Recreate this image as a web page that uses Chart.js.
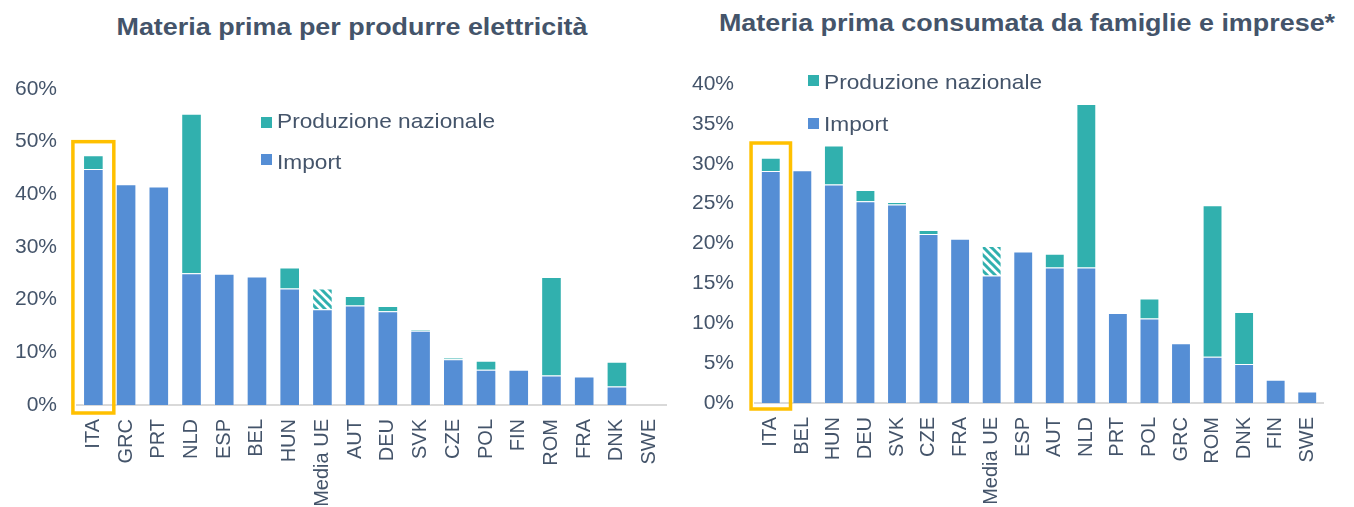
<!DOCTYPE html>
<html>
<head>
<meta charset="utf-8">
<script src="https://cdn.jsdelivr.net/npm/chart.js@4"></script>
<style>
    body { margin: 0; background: #fff; width: 1354px; height: 507px; position: relative; overflow: hidden;
           font-family: "Liberation Sans", Arial, sans-serif; color: #44546A; }
    .title { position: absolute; font-weight: bold; font-size: 23px; line-height: 1; white-space: nowrap;
             transform: translateX(-50%) scaleX(1.17); }
    .leg { position: absolute; font-size: 21px; line-height: 1; white-space: nowrap; transform-origin: left center;
           transform: scaleX(1.08); }
    .sq { position: absolute; width: 11px; height: 11px; }
    .box { position: absolute; top: 0; height: 507px; }
</style>
</head>
<body>
<div class="title" style="left:352px; top:16px;">Materia prima per produrre elettricità</div>
<div class="title" style="left:1027px; top:12px;">Materia prima consumata da famiglie e imprese*</div>

<div class="box" style="left:0; width:680px;"><canvas id="elettricita"></canvas></div>
<div class="box" style="left:680px; width:674px;"><canvas id="famiglie"></canvas></div>

<div class="sq" style="left:261px; top:117px; background:#31B0AE;"></div>
<div class="leg" style="left:277px; top:110px;">Produzione nazionale</div>
<div class="sq" style="left:261px; top:154px; background:#558ED5;"></div>
<div class="leg" style="left:277px; top:151px;">Import</div>

<div class="sq" style="left:808px; top:75px; background:#31B0AE;"></div>
<div class="leg" style="left:824px; top:71px;">Produzione nazionale</div>
<div class="sq" style="left:808px; top:118px; background:#558ED5;"></div>
<div class="leg" style="left:824px; top:113px;">Import</div>

<script>
// dati (valori in %)
var labelsEle = ["ITA", "GRC", "PRT", "NLD", "ESP", "BEL", "HUN", "Media UE", "AUT", "DEU", "SVK", "CZE", "POL", "FIN", "ROM", "FRA", "DNK", "SWE"];
var importEle = [44.8, 41.9, 41.5, 25.0, 24.9, 24.4, 22.1, 18.2, 18.9, 17.8, 14.1, 8.7, 6.7, 6.7, 5.6, 5.4, 3.5, 0];
var prodEle = [2.6, 0, 0, 30.3, 0, 0, 4.0, 3.9, 1.8, 1.0, 0.2, 0.3, 1.7, 0, 18.7, 0, 4.7, 0];

var labelsFam = ["ITA", "BEL", "HUN", "DEU", "SVK", "CZE", "FRA", "Media UE", "ESP", "AUT", "NLD", "PRT", "POL", "GRC", "ROM", "DNK", "FIN", "SWE"];
var importFam = [29.1, 29.2, 27.4, 25.3, 24.9, 21.2, 20.6, 16.0, 19.0, 17.0, 17.0, 11.3, 10.6, 7.5, 5.8, 4.9, 2.9, 1.45];
var prodFam = [1.65, 0, 4.9, 1.4, 0.3, 0.5, 0, 3.7, 0, 1.7, 20.5, 0, 2.5, 0, 19.0, 6.5, 0, 0];

var blue = "#558ED5";
var teal = "#31B0AE";
var textColor = "#44546A";

Chart.defaults.font.family = "'Liberation Sans', Arial, sans-serif";
Chart.defaults.color = textColor;

function makeHatch() {
    var c = document.createElement("canvas");
    c.width = 8;
    c.height = 8;
    var g = c.getContext("2d");
    g.fillStyle = "#ffffff";
    g.fillRect(0, 0, 8, 8);
    g.strokeStyle = teal;
    g.lineWidth = 3;
    g.beginPath();
    g.moveTo(-2, -2); g.lineTo(10, 10);
    g.moveTo(-2, 6); g.lineTo(2, 10);
    g.moveTo(6, -2); g.lineTo(10, 2);
    g.stroke();
    return g.createPattern(c, "repeat");
}
var hatch = makeHatch();

// riquadro giallo attorno a ITA
var highlightBox = {
    id: "highlightBox",
    afterDatasetsDraw: function (chart, args, opts) {
        var x = chart.scales.x;
        var y = chart.scales.y;
        var band = x.getPixelForValue(1) - x.getPixelForValue(0);
        var cx = x.getPixelForValue(0);
        var half = band * 0.625;
        var top = y.getPixelForValue(opts.top);
        var bottom = y.getPixelForValue(0) + opts.below;
        var ctx = chart.ctx;
        ctx.save();
        ctx.strokeStyle = "#FFC000";
        ctx.lineWidth = 3.5;
        ctx.strokeRect(cx - half, top, half * 2, bottom - top);
        ctx.restore();
    },
};

function makeChart(id, labels, imp, prod, opt) {
    return new Chart(document.getElementById(id), {
        type: "bar",
        data: {
            labels: labels,
            datasets: [
                {
                    label: "Import",
                    data: imp,
                    backgroundColor: blue,
                    borderColor: "rgba(255,255,255,0.35)",
                    borderWidth: 1,
                },
                {
                    label: "Produzione nazionale",
                    data: prod,
                    backgroundColor: function (c) {
                        return labels[c.dataIndex] === "Media UE" ? hatch : teal;
                    },
                    borderColor: "rgba(255,255,255,0.35)",
                    borderWidth: 1,
                },
            ],
        },
        options: {
            responsive: true,
            maintainAspectRatio: false,
            animation: false,
            categoryPercentage: 1,
            barPercentage: 0.63,
            layout: {
                padding: { left: 0, right: opt.padRight, top: opt.padTop, bottom: 0 },
            },
            scales: {
                x: {
                    stacked: true,
                    grid: { display: false },
                    border: { color: "#D9D9D9", width: 2 },
                    ticks: {
                        autoSkip: false,
                        maxRotation: 90,
                        minRotation: 90,
                        padding: 6,
                        font: { size: 20 },
                    },
                    afterFit: function (s) { s.height = opt.xHeight; },
                },
                y: {
                    stacked: true,
                    min: 0,
                    max: opt.max,
                    grid: { display: false, drawTicks: false },
                    border: { display: false },
                    ticks: {
                        stepSize: opt.step,
                        padding: opt.tickPad,
                        font: { size: 21 },
                        callback: function (v) { return v + "%"; },
                    },
                    afterFit: function (s) { s.width = opt.yWidth; },
                },
            },
            plugins: {
                legend: { display: false },
                tooltip: { enabled: false },
                highlightBox: { top: opt.boxTop, below: opt.boxBelow },
            },
        },
        plugins: [highlightBox],
    });
}

makeChart("elettricita", labelsEle, importEle, prodEle, {
    max: 60, step: 10, padRight: 13, padTop: 89, xHeight: 102, yWidth: 77, tickPad: 20,
    boxTop: 50, boxBelow: 8,
});

makeChart("famiglie", labelsFam, importFam, prodFam, {
    max: 40, step: 5, padRight: 31, padTop: 84, xHeight: 104, yWidth: 75, tickPad: 21,
    boxTop: 32.6, boxBelow: 6,
});
</script>
</body>
</html>
